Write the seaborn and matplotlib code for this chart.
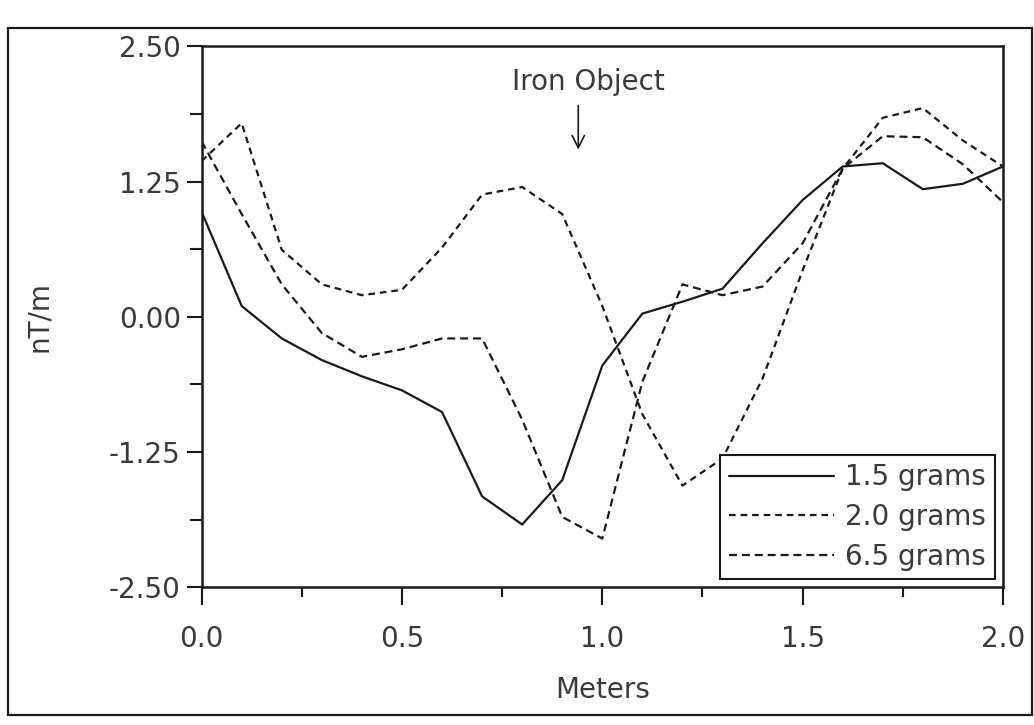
import numpy as np
import pandas as pd
import matplotlib
matplotlib.use("Agg")
import matplotlib.pyplot as plt
from matplotlib.patches import Rectangle
from matplotlib.ticker import FixedLocator, FormatStrFormatter
import seaborn as sns

# Gradiometer traverse, readings every 0.1 m
meters = [0.0, 0.1, 0.2, 0.3, 0.4, 0.5, 0.6, 0.7, 0.8, 0.9, 1.0,
          1.1, 1.2, 1.3, 1.4, 1.5, 1.6, 1.7, 1.8, 1.9, 2.0]
grams_1_5 = [0.97, 0.10, -0.20, -0.40, -0.55, -0.68, -0.88, -1.66, -1.92, -1.51, -0.45,
             0.03, 0.14, 0.26, 0.68, 1.08, 1.39, 1.42, 1.18, 1.23, 1.39]
grams_2_0 = [1.44, 1.79, 0.62, 0.30, 0.20, 0.25, 0.64, 1.13, 1.20, 0.95, 0.10,
             -0.90, -1.56, -1.31, -0.57, 0.43, 1.37, 1.84, 1.93, 1.63, 1.39]
grams_6_5 = [1.62, 0.95, 0.30, -0.15, -0.37, -0.30, -0.20, -0.20, -0.95, -1.85, -2.05,
             -0.60, 0.30, 0.20, 0.28, 0.68, 1.37, 1.67, 1.66, 1.41, 1.06]
series_labels = ["1.5 grams", "2.0 grams", "6.5 grams"]

y_ticks = [-2.50, -1.25, 0.00, 1.25, 2.50]
x_ticks = [0.0, 0.5, 1.0, 1.5, 2.0]

sns.set_theme(style="white")
plt.rcParams["font.family"] = ["DejaVu Sans"]
plt.rcParams["axes.unicode_minus"] = False

ink = "#1a1a1a"
text_ink = "#3a3a3a"
fs = 20

fig = plt.figure(figsize=(10.34, 7.25), dpi=100)
ax = fig.add_axes([0.195, 0.19, 0.775, 0.746])

line_styles = ["-", (0, (3.0, 2.2)), (0, (3.6, 2.2))]
for vals, label, ls in zip([grams_1_5, grams_2_0, grams_6_5], series_labels, line_styles):
    df = pd.DataFrame({"Meters": meters, "nT/m": vals})
    sns.lineplot(data=df, x="Meters", y="nT/m", ax=ax, color=ink,
                 linewidth=1.6, linestyle=ls, label=label)

ax.set_xlim(0, 2.0)
ax.set_ylim(-2.5, 2.5)

ax.xaxis.set_major_locator(FixedLocator(x_ticks))
ax.xaxis.set_minor_locator(FixedLocator([0.25, 0.75, 1.25, 1.75]))
ax.yaxis.set_major_locator(FixedLocator(y_ticks))
ax.yaxis.set_minor_locator(FixedLocator([-1.875, -0.625, 0.625, 1.875]))
ax.xaxis.set_major_formatter(FormatStrFormatter("%.1f"))
ax.yaxis.set_major_formatter(FormatStrFormatter("%.2f"))

ax.tick_params(axis="x", which="major", direction="out", length=13, width=1.5,
               color=ink, labelsize=fs, labelcolor=text_ink, pad=14, bottom=True)
ax.tick_params(axis="x", which="minor", direction="out", length=7, width=1.5,
               color=ink, bottom=True)
ax.tick_params(axis="y", which="major", direction="out", length=11, width=1.5,
               color=ink, labelsize=fs, labelcolor=text_ink, pad=4, left=True)
ax.tick_params(axis="y", which="minor", direction="out", length=9, width=1.5,
               color=ink, left=True)

for sp in ax.spines.values():
    sp.set_visible(True)
    sp.set_color(ink)
    sp.set_linewidth(1.8)

ax.set_xlabel("Meters", fontsize=fs, color=text_ink)
ax.set_ylabel("nT/m", fontsize=fs, color=text_ink)
ax.xaxis.set_label_coords(0.5, -0.165)
ax.yaxis.set_label_coords(-0.185, 0.5)

# Marker for the buried target
ax.annotate("", xy=(0.94, 1.52), xytext=(0.94, 1.98),
            arrowprops=dict(arrowstyle="->", color=ink, lw=1.2,
                            mutation_scale=22))
ax.text(0.965, 2.17, "Iron Object", fontsize=fs, color=text_ink,
        ha="center", va="center")

leg = ax.legend(loc="lower right", fontsize=fs, frameon=True, fancybox=False,
                framealpha=1, edgecolor=ink, handlelength=3.8, handletextpad=0.4,
                borderpad=0.3, labelspacing=0.42, borderaxespad=0.3)
leg.get_frame().set_linewidth(1.5)
for t in leg.get_texts():
    t.set_color(text_ink)

# Page frame around the whole figure
fig.patches.append(Rectangle((0.008, 0.014), 0.99, 0.948, transform=fig.transFigure,
                             fill=False, edgecolor=ink, linewidth=1.6))

fig.savefig("out.png", dpi=100, facecolor="white")
